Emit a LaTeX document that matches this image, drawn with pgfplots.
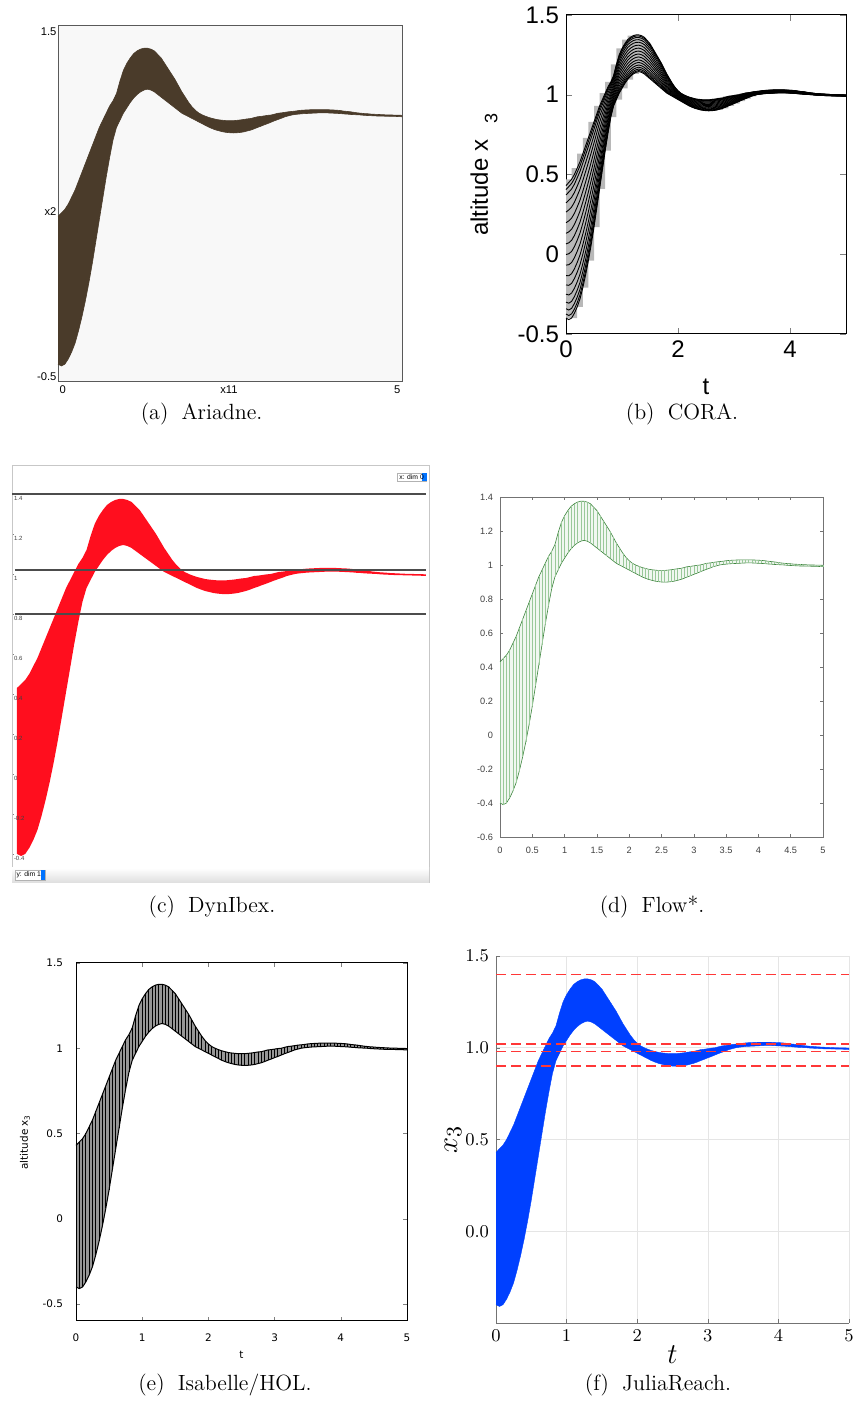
\documentclass[border=0pt]{standalone}
\usepackage{fontspec}
\usepackage{pgfplots}
\usepackage{pgfplotstable}
\usepgfplotslibrary{fillbetween}
\pgfplotsset{compat=1.18}
\newfontfamily\arial{Liberation Sans}
\newfontfamily\dejavu{DejaVu Sans}

\definecolor{ariadne}{RGB}{74,59,42}
\definecolor{ariadnebg}{RGB}{248,248,248}
\definecolor{dynred}{RGB}{255,14,30}
\definecolor{flowgreen}{RGB}{70,155,70}
\definecolor{isagray}{RGB}{150,150,150}
\definecolor{juliablue}{RGB}{0,64,255}
\definecolor{juliared}{RGB}{255,55,55}

% reach tube of x3: upper (u) and lower (l) bound over t
\pgfplotstableread{
t    u      l
0.00 0.430 -0.400
0.05 0.450 -0.410
0.10 0.470 -0.400
0.15 0.500 -0.370
0.20 0.540 -0.330
0.25 0.580 -0.280
0.30 0.630 -0.210
0.35 0.680 -0.130
0.40 0.730 -0.040
0.45 0.780 0.060
0.50 0.830 0.170
0.55 0.880 0.290
0.60 0.930 0.410
0.65 0.970 0.530
0.70 1.010 0.650
0.75 1.050 0.760
0.80 1.080 0.860
0.85 1.120 0.930
0.90 1.190 0.970
0.95 1.250 1.010
1.00 1.290 1.040
1.05 1.320 1.070
1.10 1.345 1.095
1.15 1.360 1.115
1.20 1.370 1.130
1.25 1.375 1.140
1.30 1.375 1.145
1.35 1.370 1.140
1.40 1.360 1.130
1.45 1.340 1.115
1.50 1.320 1.100
1.55 1.290 1.085
1.60 1.260 1.070
1.65 1.230 1.055
1.70 1.200 1.040
1.75 1.165 1.025
1.80 1.130 1.010
1.85 1.100 1.000
1.90 1.070 0.990
1.95 1.045 0.980
2.00 1.025 0.970
2.05 1.010 0.960
2.10 1.000 0.950
2.15 0.992 0.940
2.20 0.985 0.930
2.25 0.980 0.922
2.30 0.975 0.915
2.35 0.972 0.910
2.40 0.970 0.905
2.45 0.968 0.902
2.50 0.968 0.900
2.55 0.968 0.899
2.60 0.970 0.900
2.65 0.972 0.902
2.70 0.975 0.905
2.75 0.978 0.910
2.80 0.980 0.915
2.85 0.985 0.922
2.90 0.990 0.930
2.95 0.992 0.937
3.00 0.995 0.945
3.05 0.998 0.952
3.10 1.000 0.960
3.15 1.005 0.968
3.20 1.010 0.975
3.25 1.012 0.982
3.30 1.015 0.990
3.35 1.018 0.995
3.40 1.020 1.000
3.45 1.022 1.003
3.50 1.025 1.005
3.55 1.027 1.007
3.60 1.028 1.008
3.65 1.029 1.009
3.70 1.030 1.010
3.75 1.030 1.011
3.80 1.030 1.012
3.85 1.030 1.012
3.90 1.030 1.012
3.95 1.029 1.011
4.00 1.028 1.010
4.05 1.027 1.009
4.10 1.025 1.008
4.15 1.022 1.006
4.20 1.020 1.005
4.25 1.018 1.003
4.30 1.015 1.002
4.35 1.012 1.001
4.40 1.010 1.000
4.45 1.008 0.998
4.50 1.007 0.997
4.55 1.005 0.996
4.60 1.004 0.995
4.65 1.003 0.994
4.70 1.002 0.994
4.75 1.001 0.993
4.80 1.000 0.993
4.85 1.000 0.992
4.90 0.999 0.992
4.95 0.999 0.991
5.00 0.998 0.990
}\tube

\begin{document}
\begin{tikzpicture}

% ---------- (a) Ariadne
\begin{axis}[at={(29pt,517pt)}, anchor=south west, scale only axis,
    width=172pt, height=178pt, clip=false,
    xmin=0, xmax=5, ymin=-0.5, ymax=1.5, xtick=\empty, ytick=\empty,
    axis background/.style={fill=ariadnebg},
    axis line style={draw=black!65, line width=0.5pt}]
\addplot[name path=Ua, draw=ariadne, line width=0.3pt] table[x=t, y=u] {\tube};
\addplot[name path=La, draw=ariadne, line width=0.3pt] table[x=t, y=l] {\tube};
\addplot[fill=ariadne, draw=none] fill between[of=Ua and La];
\node[anchor=north east, font=\arial\fontsize{5.6}{6}\selectfont, inner sep=0.6pt] at (rel axis cs:0,1) {1.5};
\node[anchor=south east, font=\arial\fontsize{5.6}{6}\selectfont, inner sep=0.6pt] at (rel axis cs:0,0) {-0.5};
\node[anchor=east, font=\arial\fontsize{5.6}{6}\selectfont, inner sep=0.6pt] at (rel axis cs:0,0.478) {x2};
\node[anchor=north west, yshift=-1pt, font=\arial\fontsize{5.6}{6}\selectfont, inner sep=0.6pt] at (rel axis cs:0,0) {0};
\node[anchor=north, yshift=-1pt, font=\arial\fontsize{5.6}{6}\selectfont, inner sep=0.6pt] at (rel axis cs:0.497,0) {x11};
\node[anchor=north east, yshift=-1pt, font=\arial\fontsize{5.6}{6}\selectfont, inner sep=0.6pt] at (rel axis cs:1,0) {5};
\end{axis}

% ---------- (b) CORA
\begin{axis}[at={(283pt,541pt)}, anchor=south west, scale only axis,
    width=140pt, height=159.5pt, clip=false,
    xmin=0, xmax=5, ymin=-0.5, ymax=1.5,
    xtick={0,2,4}, ytick={-0.5,0,0.5,1,1.5},
    tick align=inside, major tick length=3pt,
    axis line style={line width=0.5pt},
    /pgf/number format/assume math mode=true,
    tick label style={font=\arial\fontsize{12}{14}\selectfont},
    xlabel={t}, ylabel={altitude x\hspace{0.7em}\raisebox{-0.4em}{\fontsize{9}{9}\selectfont 3}},
    every axis x label/.style={at={(axis description cs:0.5,0)}, yshift=-26.5pt, anchor=center,
        font=\arial\fontsize{12}{14}\selectfont},
    every axis y label/.style={at={(axis description cs:0,0.5)}, xshift=-41pt, rotate=90, anchor=center,
        font=\arial\fontsize{12}{14}\selectfont}]
\addplot[name path=Ub, draw=none, const plot mark right, each nth point=2] table[x=t, y=u] {\tube};
\addplot[name path=Lb, draw=none, const plot mark left, each nth point=2] table[x=t, y=l] {\tube};
\addplot[fill=black!28, draw=none] fill between[of=Ub and Lb];
\pgfplotsinvokeforeach{0,0.03,0.07,0.12,0.18,0.25,0.32,0.4,0.48,0.56,0.64,0.72,0.8,0.87,0.93,0.97,1}{
  \addplot[black, line width=0.45pt] table[x=t, y expr=\thisrow{l}+#1*(\thisrow{u}-\thisrow{l})] {\tube};
}
\end{axis}

% ---------- (c) DynIbex
\begin{axis}[at={(6pt,266.5pt)}, anchor=south west, scale only axis,
    width=208.5pt, height=208.5pt, clip=false,
    xmin=-0.061, xmax=5.037, ymin=-0.545, ymax=1.54,
    axis line style={draw=black!22, line width=0.5pt},
    ytick={-0.4,-0.2,0,0.2,0.4,0.6,0.8,1,1.2,1.4},
    xtick={0.4,0.6,0.8,1,1.2,1.4,1.6,1.8,2,2.2,2.4,2.6,2.8,3,3.2,3.4,3.6,3.8,4,4.2,4.4,4.6,4.8,5},
    xtick pos=bottom, ytick pos=left,
    tick align=inside, major tick length=1pt,
    tick style={draw=black!50, line width=0.3pt},
    /pgf/number format/assume math mode=true,
    tick label style={font=\arial\fontsize{3}{3}\selectfont, text=black!75, inner sep=0pt},
    yticklabel style={anchor=north west, xshift=0.8pt, yshift=-1pt},
    xticklabel style={anchor=center, yshift=4pt}]
\fill[top color=white, bottom color=black!13] (axis cs:-0.061,-0.545) rectangle (axis cs:5.037,-0.47);
\addplot[name path=Uc, draw=none] table[x=t, y=u] {\tube};
\addplot[name path=Lc, draw=none] table[x=t, y=l] {\tube};
\addplot[fill=dynred, draw=none] fill between[of=Uc and Lc];
\addplot[black!70, line width=0.6pt] coordinates {(-0.061,1.4) (5,1.4)};
\addplot[black!70, line width=0.6pt] coordinates {(-0.02,1.02) (5,1.02)};
\addplot[black!70, line width=0.6pt] coordinates {(-0.02,0.8) (5,0.8)};
% selector widgets
\draw[black!30, fill=white, line width=0.3pt] (axis cs:-0.024,-0.53) rectangle (axis cs:0.342,-0.48);
\fill[blue!55!cyan] (axis cs:0.29,-0.53) rectangle (axis cs:0.342,-0.48);
\node[anchor=west, inner sep=0.4pt, font=\arial\fontsize{3.4}{3.4}\selectfont] at (axis cs:-0.02,-0.505) {y: dim 1};
\draw[black!30, fill=white, line width=0.3pt] (axis cs:4.645,1.465) rectangle (axis cs:5.01,1.505);
\fill[blue!55!cyan] (axis cs:4.95,1.465) rectangle (axis cs:5.01,1.505);
\node[anchor=west, inner sep=0.4pt, font=\arial\fontsize{3.4}{3.4}\selectfont] at (axis cs:4.66,1.485) {x: dim 0};
\end{axis}

% ---------- (d) Flow*
\begin{axis}[at={(250pt,289.5pt)}, anchor=south west, scale only axis,
    width=161.5pt, height=170pt, clip=false,
    xmin=0, xmax=5, ymin=-0.6, ymax=1.4,
    xtick={0,0.5,1,1.5,2,2.5,3,3.5,4,4.5,5},
    ytick={-0.6,-0.4,-0.2,0,0.2,0.4,0.6,0.8,1,1.2,1.4},
    tick align=inside, major tick length=1.6pt,
    axis line style={draw=black!55, line width=0.4pt},
    tick style={draw=black!55, line width=0.3pt},
    /pgf/number format/assume math mode=true,
    tick label style={font=\arial\fontsize{4.6}{5}\selectfont, text=black!75},
    xticklabel style={yshift=-1.5pt}]
\addplot[name path=Ud, draw=flowgreen!85!black, line width=0.3pt] table[x=t, y=u] {\tube};
\addplot[name path=Ld, draw=flowgreen!85!black, line width=0.3pt] table[x=t, y=l] {\tube};
\addplot[fill=flowgreen!8, draw=none] fill between[of=Ud and Ld];
\addplot[draw=none, mark=none, error bars/.cd, y dir=plus, y explicit, error mark=none,
    error bar style={draw=flowgreen!55, line width=0.25pt}]
    table[x=t, y=l, y error expr=\thisrow{u}-\thisrow{l}] {\tube};
\end{axis}

% ---------- (e) Isabelle/HOL
\begin{axis}[at={(38pt,47.5pt)}, anchor=south west, scale only axis,
    width=165.5pt, height=179pt, clip=false,
    xmin=0, xmax=5, ymin=-0.6, ymax=1.5,
    xtick={0,1,2,3,4,5}, ytick={-0.5,0,0.5,1,1.5},
    tick align=inside, major tick length=2.2pt,
    axis line style={line width=0.5pt},
    /pgf/number format/assume math mode=true,
    tick label style={font=\dejavu\fontsize{5.2}{6}\selectfont},
    xticklabel style={yshift=-3pt}, yticklabel style={xshift=-3pt},
    xlabel={t}, ylabel={altitude x\textsubscript{3}},
    every axis x label/.style={at={(axis description cs:0.5,0)}, yshift=-17pt, anchor=center,
        font=\dejavu\fontsize{5.2}{6}\selectfont},
    every axis y label/.style={at={(axis description cs:0,0.5)}, xshift=-25.5pt, rotate=90, anchor=center,
        font=\dejavu\fontsize{5.2}{6}\selectfont}]
\addplot[name path=Ue, black, line width=0.5pt] table[x=t, y=u] {\tube};
\addplot[name path=Le, black, line width=0.5pt] table[x=t, y=l] {\tube};
\addplot[fill=isagray, draw=none] fill between[of=Ue and Le];
\addplot[draw=none, mark=none, error bars/.cd, y dir=plus, y explicit, error mark=none,
    error bar style={draw=black, line width=0.45pt}]
    table[x=t, y=l, y error expr=\thisrow{u}-\thisrow{l}] {\tube};
\end{axis}

% ---------- (f) JuliaReach
\begin{axis}[at={(248pt,46.5pt)}, anchor=south west, scale only axis,
    width=176.5pt, height=183.5pt, clip=false,
    xmin=0, xmax=5, ymin=-0.5, ymax=1.5,
    xtick={0,1,2,3,4,5}, ytick={0,0.5,1,1.5}, yticklabels={0.0,0.5,1.0,1.5},
    grid=major, grid style={draw=black!10, line width=0.3pt},
    axis lines*=left, axis line style={draw=black!55, line width=0.4pt, -},
    tick align=inside, major tick length=2pt, tick style={draw=black!55},
    tick label style={font=\fontsize{9}{10}\selectfont},
    xlabel={$t$}, ylabel={$x_3$},
    every axis x label/.style={at={(axis description cs:0.5,0)}, yshift=-16pt, anchor=center,
        font=\fontsize{15}{16}\selectfont},
    every axis y label/.style={at={(axis description cs:0,0.5)}, xshift=-21.5pt, rotate=90, anchor=center,
        font=\fontsize{15}{16}\selectfont}]
\addplot[name path=Uf, draw=juliablue, line width=0.2pt] table[x=t, y=u] {\tube};
\addplot[name path=Lf, draw=juliablue, line width=0.2pt] table[x=t, y=l] {\tube};
\addplot[fill=juliablue, draw=none] fill between[of=Uf and Lf];
\addplot[juliared, line width=0.7pt, dash pattern=on 5pt off 2.5pt] coordinates {(0,1.4) (5,1.4)};
\addplot[juliared, line width=0.7pt, dash pattern=on 5pt off 2.5pt] coordinates {(0,1.02) (5,1.02)};
\addplot[juliared, line width=0.7pt, dash pattern=on 5pt off 2.5pt] coordinates {(0,0.98) (5,0.98)};
\addplot[juliared, line width=0.7pt, dash pattern=on 5pt off 2.5pt] coordinates {(0,0.9) (5,0.9)};
\end{axis}

% ---------- captions
\node[font=\fontsize{11}{13}\selectfont] at (100.8pt,501pt) {(a)\hskip0.6em Ariadne.};
\node[font=\fontsize{11}{13}\selectfont] at (341pt,501pt) {(b)\hskip0.6em CORA.};
\node[font=\fontsize{11}{13}\selectfont] at (106pt,254.5pt) {(c)\hskip0.6em DynIbex.};
\node[font=\fontsize{11}{13}\selectfont] at (326pt,254.5pt) {(d)\hskip0.6em Flow*.};
\node[font=\fontsize{11}{13}\selectfont] at (112.5pt,15.5pt) {(e)\hskip0.6em Isabelle/HOL.};
\node[font=\fontsize{11}{13}\selectfont] at (329pt,15.5pt) {(f)\hskip0.6em JuliaReach.};

\pgfresetboundingbox
\path[use as bounding box] (0,0) rectangle (429.5pt,708pt);
\end{tikzpicture}
\end{document}
